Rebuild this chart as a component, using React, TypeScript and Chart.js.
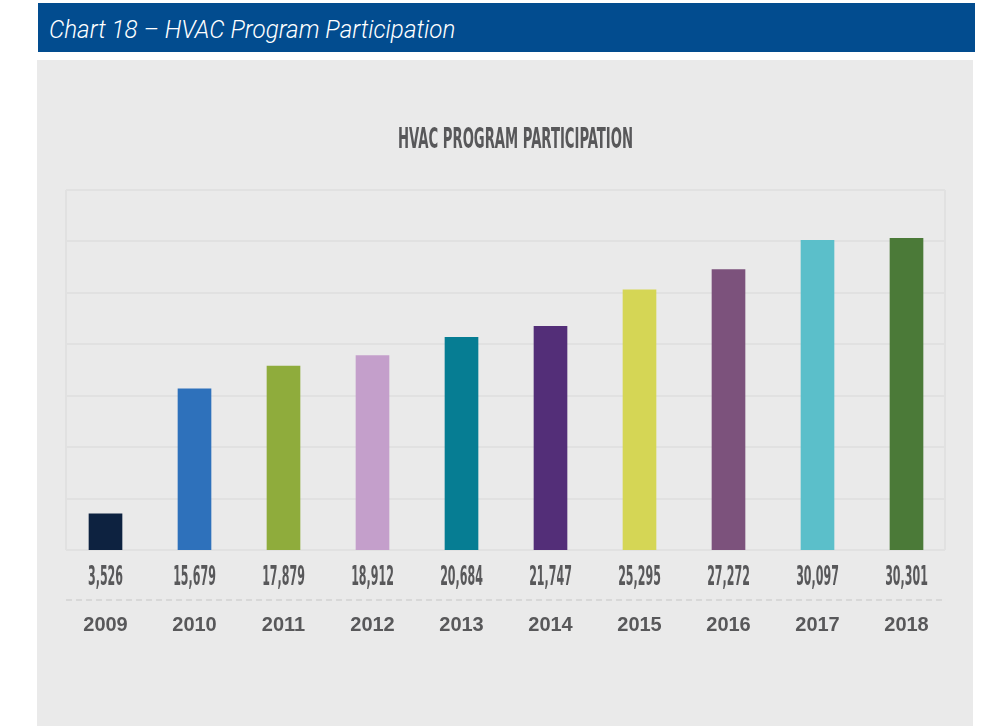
import React, { useEffect, useRef } from "react";
import { Chart, registerables } from "chart.js";

Chart.register(...registerables);

const years: string[] = ["2009", "2010", "2011", "2012", "2013", "2014", "2015", "2016", "2017", "2018"];
const participants: number[] = [3526, 15679, 17879, 18912, 20684, 21747, 25295, 27272, 30097, 30301];
const valueLabels: string[] = ["3,526", "15,679", "17,879", "18,912", "20,684", "21,747", "25,295", "27,272", "30,097", "30,301"];
const barColors: string[] = ["#0d2240", "#2e71bb", "#8fac3c", "#c49fcb", "#067d93", "#532e78", "#d5d655", "#7c527c", "#5bbfca", "#4b7a38"];
const yGridValues: number[] = [0, 5000, 10000, 15000, 20000, 25000, 30000, 35000];
const chartTitle = "HVAC PROGRAM PARTICIPATION";
const headerTitle = "Chart 18 \u2013 HVAC Program Participation";

const NARROW = "'Liberation Sans Narrow', 'DejaVu Sans Condensed', 'Liberation Sans', sans-serif";

function drawScaledText(ctx: CanvasRenderingContext2D, text: string, x: number, y: number, font: string, color: string, targetRef: string, targetWidth: number) {
  ctx.save();
  ctx.font = font;
  const w = ctx.measureText(targetRef).width;
  const sx = w > 0 ? targetWidth / w : 1;
  ctx.translate(x, y);
  ctx.scale(sx, 1);
  ctx.fillStyle = color;
  ctx.textAlign = "center";
  ctx.textBaseline = "middle";
  ctx.fillText(text, 0, 0);
  ctx.restore();
}

const decorPlugin = {
  id: "decor",
  beforeDatasetsDraw(chart: any) {
    const ctx: CanvasRenderingContext2D = chart.ctx;
    const y = chart.scales.y;
    const left = 29;
    const right = 908;
    ctx.save();
    ctx.strokeStyle = "#e1e1e1";
    ctx.lineWidth = 2;
    yGridValues.forEach((v) => {
      const py = Math.round(y.getPixelForValue(v));
      ctx.beginPath();
      ctx.moveTo(left, py);
      ctx.lineTo(right, py);
      ctx.stroke();
    });
    const top = y.getPixelForValue(yGridValues[yGridValues.length - 1]);
    const bottom = y.getPixelForValue(0);
    [left, right].forEach((px) => {
      ctx.beginPath();
      ctx.moveTo(px, top);
      ctx.lineTo(px, bottom);
      ctx.stroke();
    });
    ctx.restore();
  },
  afterDraw(chart: any) {
    const ctx: CanvasRenderingContext2D = chart.ctx;
    const x = chart.scales.x;
    // title
    drawScaledText(ctx, chartTitle, 478.5, 81, `bold 28px ${NARROW}`, "#58585a", chartTitle, 235);
    // value labels
    valueLabels.forEach((lbl, i) => {
      const px = x.getPixelForValue(i);
      drawScaledText(ctx, lbl, px, 518, `bold 26px ${NARROW}`, "#58585a", "3,526", 35);
    });
    // dashed line
    ctx.save();
    ctx.strokeStyle = "#d2d2d2";
    ctx.lineWidth = 1.5;
    ctx.setLineDash([6, 4]);
    ctx.beginPath();
    ctx.moveTo(29, 540);
    ctx.lineTo(908, 540);
    ctx.stroke();
    ctx.restore();
    // years
    ctx.save();
    ctx.font = "bold 20px 'Liberation Sans', Arial, sans-serif";
    ctx.fillStyle = "#58585a";
    ctx.textAlign = "center";
    ctx.textBaseline = "middle";
    years.forEach((yr, i) => {
      ctx.fillText(yr, x.getPixelForValue(i), 565);
    });
    ctx.restore();
  },
};

export default function App() {
  const ref = useRef<HTMLCanvasElement | null>(null);
  useEffect(() => {
    if (!ref.current) return;
    const chart = new Chart(ref.current, {
      type: "bar",
      data: {
        labels: years,
        datasets: [
          {
            data: participants,
            backgroundColor: barColors,
            borderWidth: 0,
            barThickness: 33,
          },
        ],
      },
      options: {
        responsive: false,
        animation: false,
        layout: { padding: { left: 24, right: 22, top: 130, bottom: 176 } },
        plugins: { legend: { display: false }, tooltip: { enabled: false }, title: { display: false } },
        scales: {
          x: { display: false, grid: { display: false } },
          y: { display: false, min: 0, max: 35000, grid: { display: false } },
        },
      },
      plugins: [decorPlugin],
    });
    return () => chart.destroy();
  }, []);

  return (
    <div>
      <div
        style={{
          position: "absolute",
          left: 38,
          top: 3,
          width: 937,
          height: 49,
          background: "#024c8f",
        }}
      >
        <div
          style={{
            position: "absolute",
            left: 11,
            top: 11,
            color: "#ffffff",
            fontFamily: "Roboto, 'Noto Sans', sans-serif",
            fontStyle: "italic",
            fontWeight: 300,
            fontSize: 26,
            lineHeight: "30px",
            whiteSpace: "nowrap",
            transformOrigin: "left center",
            transform: "scaleX(0.93)",
          }}
        >
          {headerTitle}
        </div>
      </div>
      <div
        style={{
          position: "absolute",
          left: 37,
          top: 60,
          width: 936,
          height: 666,
          background: "#eaeaea",
        }}
      >
        <canvas ref={ref} width={936} height={666} style={{ display: "block", width: 936, height: 666 }} />
      </div>
    </div>
  );
}
